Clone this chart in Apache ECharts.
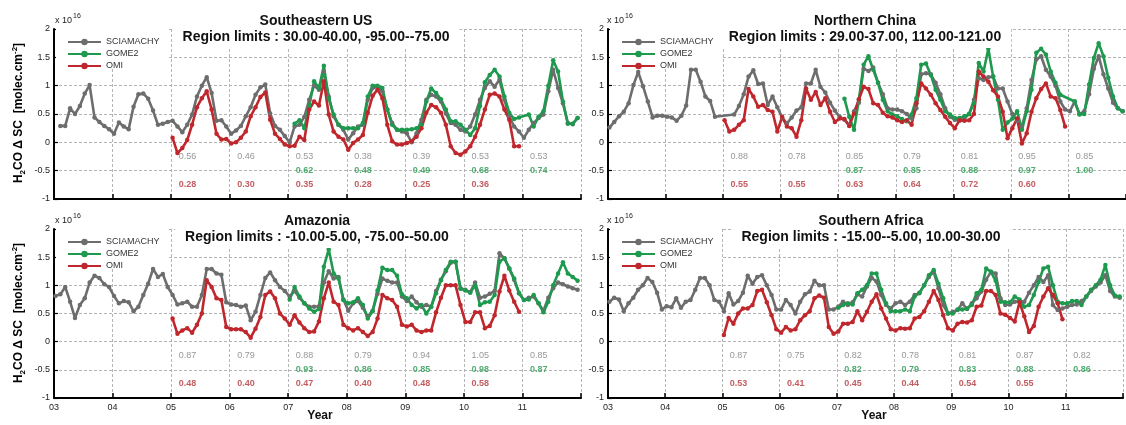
<!DOCTYPE html>
<html><head><meta charset="utf-8">
<script src="https://cdn.jsdelivr.net/npm/echarts/dist/echarts.min.js"></script>
<style>html,body{margin:0;padding:0;background:#fff}#c{width:1126px;height:425px}</style>
</head><body><div id="c"></div><script>
// ---------------- DATA ----------------
const legendNames = ['SCIAMACHY', 'GOME2', 'OMI'];
const xTickLabels = ['03','04','05','06','07','08','09','10','11'];
const sciaStartYear = 2003, gomeStartYear = 2007, omiStartYear = 2005;

// Southeastern US (monthly, SCIAMACHY from Jan 2003, GOME2 from Jan 2007, OMI from Jan 2005)
const seScia = [
 null,0.29,0.29,0.60,0.50,0.64,0.86,1.01,0.44,0.36,0.29,0.23,
 0.15,0.35,0.28,0.23,0.63,0.85,0.86,0.77,0.56,0.31,0.33,0.36,
 0.38,0.28,0.18,0.31,0.49,0.81,1.00,1.15,0.87,0.38,0.39,0.28,
 0.15,0.21,0.29,0.46,0.62,0.84,0.97,1.02,0.51,0.29,0.22,0.11,
 0.00,0.28,0.31,0.45,0.75,1.00,0.93,1.25,0.81,0.46,0.31,0.22,
 0.05,0.16,0.28,0.31,0.75,0.96,0.98,0.90,0.58,0.34,0.22,0.19,
 0.16,0.00,0.16,0.40,0.75,0.84,0.81,0.72,0.51,0.34,0.31,0.22,
 0.19,0.28,0.49,0.75,0.96,1.08,0.98,1.11,0.75,0.46,0.28,0.19,
 0.08,0.22,0.34,0.43,0.49,0.90,1.28,0.96,0.69,0.34,0.32,0.43];
const seGome = [
 null,0.33,0.39,0.25,0.64,1.08,0.96,1.35,0.78,0.49,0.31,0.25,
 0.25,0.25,0.25,0.34,0.81,1.00,1.00,0.96,0.58,0.31,0.22,0.22,
 0.22,0.23,0.25,0.31,0.72,0.95,0.87,0.76,0.58,0.37,0.37,0.31,
 0.22,0.13,0.25,0.64,1.06,1.19,1.28,1.16,0.81,0.52,0.41,0.44,
 null,0.49,0.28,0.45,0.55,1.00,1.45,1.25,0.72,0.33,0.33,0.43];
const seOmi = [
 0.08,-0.19,-0.10,0.04,0.31,0.62,0.78,0.90,0.58,0.15,0.05,0.06,
 -0.02,0.00,0.08,0.19,0.46,0.62,0.80,0.88,0.40,0.15,0.06,-0.04,
 -0.07,-0.06,0.10,0.04,0.58,0.72,0.65,1.08,0.49,0.19,0.10,0.05,
 -0.13,-0.01,0.05,0.13,0.52,0.82,0.93,0.78,0.31,0.02,-0.04,-0.04,
 -0.01,0.02,0.10,0.25,0.52,0.66,0.62,0.52,0.31,-0.07,-0.19,-0.22,
 -0.16,-0.07,0.10,0.31,0.58,0.84,0.86,0.81,0.58,0.40,-0.07,-0.07];

// Northern China
const ncScia = [
 0.26,0.36,0.46,0.54,0.69,1.01,1.24,0.99,0.72,0.44,0.47,0.47,
 0.45,0.44,0.38,0.47,0.65,1.28,1.28,1.07,0.81,0.73,0.45,null,
 null,null,0.49,0.64,0.85,1.16,1.27,1.03,1.04,0.66,0.81,0.62,
 0.44,0.33,0.44,0.56,0.62,1.04,1.04,1.28,0.98,0.88,0.70,0.56,
 0.45,0.40,0.30,0.55,0.70,1.30,1.26,1.32,1.05,0.85,0.60,0.58,
 0.58,0.55,0.50,0.42,0.60,1.20,1.22,1.20,1.05,0.85,0.60,0.45,
 0.40,0.38,0.42,0.50,0.75,1.13,1.10,1.15,1.16,0.95,0.95,0.72,
 0.50,0.38,0.28,0.60,1.10,1.46,1.52,1.28,1.16,1.00,0.72,0.58,
 0.55,0.72,0.50,0.55,0.85,1.30,1.52,1.20,0.95,0.70,0.60,0.55];
const ncGome = [
 null,0.77,0.45,0.22,0.75,1.37,1.52,1.28,1.05,0.75,0.55,0.49,
 0.46,0.41,0.37,0.49,0.78,1.37,1.39,1.19,0.93,0.75,0.55,0.49,
 0.43,0.43,0.46,0.50,0.70,1.40,1.25,1.65,1.16,0.75,0.22,0.35,
 0.42,0.55,0.22,0.55,0.93,1.58,1.65,1.55,1.25,1.05,0.84,null,
 null,0.72,0.49,0.50,1.02,1.49,1.75,1.52,1.14,0.81,0.60,0.55];
const ncOmi = [
 0.39,0.19,0.22,0.31,0.39,0.94,0.81,0.63,0.66,0.57,0.54,0.19,
 0.45,0.28,0.25,0.10,0.39,0.95,0.75,0.89,0.66,0.78,0.54,0.36,
 0.42,0.41,0.29,0.51,0.76,0.98,0.94,0.69,0.66,0.52,0.46,0.44,
 0.39,0.36,0.39,0.31,0.69,1.04,0.95,0.84,0.69,0.57,0.45,0.34,
 0.25,0.39,0.38,0.39,0.50,1.25,1.16,1.07,0.92,0.81,0.54,0.07,
 0.25,0.42,-0.02,0.16,0.54,0.78,0.94,1.04,0.81,0.78,0.57,0.28];

// Amazonia
const amScia = [
 0.81,0.84,0.97,0.71,0.42,0.65,0.77,1.05,1.17,1.13,1.02,0.97,
 0.81,0.68,0.72,0.70,0.54,0.62,0.83,1.03,1.29,1.15,1.20,0.97,
 0.83,0.66,0.68,0.71,0.62,0.62,0.83,1.29,1.29,1.21,1.19,0.70,
 0.66,0.65,0.62,0.64,0.38,0.53,0.83,1.13,1.23,1.09,0.97,0.90,
 0.80,0.90,0.78,0.68,0.62,0.62,0.63,1.05,1.25,1.12,1.15,0.75,
 0.55,0.68,0.72,0.60,0.45,0.55,0.85,1.12,1.08,1.05,1.05,0.80,
 0.72,0.80,0.70,0.62,0.65,0.62,0.90,1.10,1.25,1.40,1.42,0.95,
 0.92,0.88,1.05,0.78,0.80,0.85,0.90,1.57,1.48,1.30,1.10,0.86,
 0.74,0.78,0.80,0.68,0.55,0.78,0.95,1.05,1.02,0.98,0.95,0.92];
const amGome = [
 0.75,0.97,0.80,0.68,0.59,0.53,0.58,1.33,1.64,1.21,1.12,0.74,
 0.68,0.70,0.77,0.65,0.41,0.54,0.91,1.31,1.27,1.27,1.17,0.84,
 0.77,0.65,0.59,0.65,0.50,0.62,0.86,1.09,1.27,1.42,1.42,0.94,
 0.91,0.87,1.00,0.65,0.70,0.71,0.83,1.42,1.48,1.30,1.12,0.86,
 0.74,0.75,0.83,0.68,0.52,0.71,1.00,1.21,1.41,1.21,1.15,1.08];
const amOmi = [
 0.41,0.14,0.20,0.24,0.16,0.30,0.50,1.09,0.97,0.77,0.74,0.26,
 0.22,0.22,0.22,0.17,0.07,0.23,0.44,0.83,0.89,0.77,0.50,0.41,
 0.30,0.47,0.34,0.24,0.17,0.18,0.36,0.77,1.05,0.71,0.65,0.30,
 0.24,0.20,0.24,0.17,0.10,0.17,0.41,0.83,0.77,0.74,0.62,0.30,
 0.27,0.30,0.20,0.17,0.20,0.20,0.52,0.78,1.00,1.00,1.00,0.65,
 0.35,0.35,0.52,0.52,0.24,0.28,0.47,0.89,1.17,0.91,0.71,0.53];

// Southern Africa
const saScia = [
 0.71,0.78,0.75,0.54,0.68,0.78,0.92,1.00,1.13,1.06,0.87,0.57,
 0.63,0.61,0.77,0.60,0.71,0.74,0.92,1.13,1.13,1.00,0.74,0.71,
 0.54,0.86,0.66,0.72,0.87,1.17,1.03,1.15,1.18,1.00,0.83,0.57,
 0.57,0.74,0.65,0.50,0.71,0.84,0.89,1.08,1.00,1.00,0.57,0.57,
 0.62,0.71,0.65,0.70,0.84,0.80,0.98,1.13,1.07,0.83,0.65,0.59,
 0.68,0.71,0.65,0.71,0.83,0.86,1.00,1.15,1.24,0.95,0.65,0.50,
 0.53,0.56,0.68,0.58,0.68,0.77,0.89,1.10,1.24,1.21,0.77,0.65,
 0.66,0.71,0.72,0.71,0.87,1.00,1.15,1.06,1.18,0.65,0.56,0.59,
 0.62,0.65,0.66,0.72,0.80,0.90,0.98,1.05,1.18,0.90,0.80,0.78];
const saGome = [
 0.60,0.65,0.68,0.66,0.86,0.92,1.00,1.21,1.21,0.92,0.68,0.54,
 0.54,0.54,0.57,0.54,0.80,0.87,1.00,1.18,1.27,1.03,0.77,0.50,
 0.50,0.57,0.57,0.59,0.65,0.86,0.92,1.30,1.24,1.08,0.71,0.70,
 0.70,0.80,0.75,0.62,0.65,0.83,1.06,1.30,1.33,1.00,0.71,0.68,
 0.68,0.72,0.72,0.65,0.80,0.92,1.00,1.10,1.36,1.00,0.82,0.80];
const saOmi = [
 0.12,0.42,0.32,0.50,0.59,0.59,0.65,0.90,0.92,0.70,0.47,0.22,
 0.16,0.26,0.20,0.22,0.38,0.47,0.54,0.77,0.82,0.78,0.26,0.14,
 0.18,0.32,0.32,0.35,0.54,0.38,0.53,0.71,0.84,0.59,0.41,0.22,
 0.20,0.24,0.23,0.24,0.41,0.44,0.54,0.71,0.90,0.74,0.47,0.24,
 0.20,0.32,0.35,0.34,0.38,0.62,0.64,0.90,0.90,0.83,0.50,0.48,
 0.42,0.36,0.70,0.45,0.17,0.28,0.62,0.80,0.95,0.83,0.68,0.40];

// yearly correlation numbers
const corrYearsScia = [2005,2006,2007,2008,2009,2010,2011];
const corrYearsGome = [2007,2008,2009,2010,2011];
const corrYearsOmi  = [2005,2006,2007,2008,2009,2010];
const seCorrScia = [0.56,0.46,0.53,0.38,0.39,0.53,0.53];
const seCorrGome = [0.62,0.48,0.49,0.68,0.74];
const seCorrOmi  = [0.28,0.30,0.35,0.28,0.25,0.36];
const ncCorrScia = [0.88,0.78,0.85,0.79,0.81,0.95,0.85];
const ncCorrGome = [0.87,0.85,0.88,0.97,1.00];
const ncCorrOmi  = [0.55,0.55,0.63,0.64,0.72,0.60];
const amCorrScia = [0.87,0.79,0.88,0.79,0.94,1.05,0.85];
const amCorrGome = [0.93,0.86,0.85,0.98,0.87];
const amCorrOmi  = [0.48,0.40,0.47,0.40,0.48,0.58];
const saCorrScia = [0.87,0.75,0.82,0.78,0.81,0.87,0.82];
const saCorrGome = [0.82,0.79,0.83,0.88,0.86];
const saCorrOmi  = [0.53,0.41,0.45,0.44,0.54,0.55];

const regionNames = ['Southeastern US','Northern China','Amazonia','Southern Africa'];
const regionLimits = ['Region limits : 30.00-40.00, -95.00--75.00','Region limits : 29.00-37.00, 112.00-121.00',
  'Region limits : -10.00-5.00, -75.00--50.00','Region limits : -15.00--5.00, 10.00-30.00'];

// ---------------- CHART ----------------
const FONT = 'Liberation Sans, Arial, Helvetica, sans-serif';
const COL = { scia: '#6d6d6d', gome: '#1d9a4e', omi: '#c0272d' };
const TXT = { scia: '#7d7d7d', gome: '#27994f', omi: '#b3353a' };

const panelData = [
  {scia: seScia, gome: seGome, omi: seOmi, cs: seCorrScia, cg: seCorrGome, co: seCorrOmi},
  {scia: ncScia, gome: ncGome, omi: ncOmi, cs: ncCorrScia, cg: ncCorrGome, co: ncCorrOmi},
  {scia: amScia, gome: amGome, omi: amOmi, cs: amCorrScia, cg: amCorrGome, co: amCorrOmi},
  {scia: saScia, gome: saGome, omi: saOmi, cs: saCorrScia, cg: saCorrGome, co: saCorrOmi}
];
const layout = [
  {left: 54,  top: 29,  height: 170, tx: 306, ty: 11,  lx: 64,  ly: 34,  bottom: false},
  {left: 608, top: 29,  height: 170, tx: 855, ty: 11,  lx: 618, ly: 34,  bottom: false},
  {left: 54,  top: 229, height: 169, tx: 307, ty: 211, lx: 64,  ly: 234, bottom: true},
  {left: 608, top: 229, height: 169, tx: 861, ty: 211, lx: 618, ly: 234, bottom: true}
];

function monthly(arr, startYear) {
  const out = [];
  arr.forEach((v, i) => { if (v !== null) out.push([startYear + (i + 0.3) / 12, v]); });
  return out;
}

const grids = [], xAxes = [], yAxes = [], series = [], titles = [], legends = [], graphics = [];
layout.forEach((L, k) => {
  grids.push({left: L.left, top: L.top, width: 527, height: L.height, containLabel: false});
  xAxes.push({
    type: 'value', gridIndex: k, min: 2003, max: 2012, interval: 1,
    axisLine: {show: true, onZero: false, lineStyle: {color: '#000', width: 2}},
    axisTick: {show: true, inside: true, length: 5, lineStyle: {color: '#000', width: 1.5}},
    axisLabel: {show: L.bottom, fontSize: 9, color: '#222', margin: 5, fontFamily: FONT,
      formatter: v => xTickLabels[Math.round(v) - 2003] || ''},
    splitLine: {show: true, lineStyle: {color: '#b4b4b4', type: [3, 2], width: 1}}
  });
  yAxes.push({
    type: 'value', gridIndex: k, min: -1, max: 2, interval: 0.5,
    axisLine: {show: true, onZero: false, lineStyle: {color: '#000', width: 2}},
    axisTick: {show: true, inside: true, length: 4, lineStyle: {color: '#000', width: 1.2}},
    axisLabel: {fontSize: 9, color: '#222', margin: 4, fontFamily: FONT},
    splitLine: {show: true, lineStyle: {color: '#b4b4b4', type: [3, 2], width: 1}}
  });
  const D = panelData[k];
  const lineBase = (name, data, color) => ({
    type: 'line', name, data, xAxisIndex: k, yAxisIndex: k,
    symbol: 'circle', symbolSize: 4.5, showSymbol: true,
    lineStyle: {color, width: 2.6}, itemStyle: {color},
    emphasis: {disabled: true}, silent: true, z: 3
  });
  series.push(lineBase('SCIAMACHY', monthly(D.scia, sciaStartYear), COL.scia));
  series.push(lineBase('GOME2', monthly(D.gome, gomeStartYear), COL.gome));
  series.push(lineBase('OMI', monthly(D.omi, omiStartYear), COL.omi));
  const corrSeries = (years, vals, level, color, bold) => ({
    type: 'scatter', xAxisIndex: k, yAxisIndex: k, symbolSize: 1,
    itemStyle: {color: 'rgba(0,0,0,0)'}, silent: true, emphasis: {disabled: true}, z: 5,
    data: years.map((y, i) => [y + 0.12, level, vals[i]]),
    label: {show: true, position: 'right', distance: 0, fontSize: 9, fontFamily: FONT,
      color, fontWeight: bold ? 'bold' : 'normal',
      formatter: p => Number(p.data[2]).toFixed(2)}
  });
  series.push(corrSeries(corrYearsScia, D.cs, -0.25, TXT.scia, false));
  series.push(corrSeries(corrYearsGome, D.cg, -0.5, TXT.gome, true));
  series.push(corrSeries(corrYearsOmi, D.co, -0.75, TXT.omi, true));

  titles.push({
    text: regionNames[k], subtext: regionLimits[k],
    left: L.tx, top: L.ty, textAlign: 'center', itemGap: 0,
    backgroundColor: '#fff', padding: [2, 10, 3, 10], z: 10,
    textStyle: {fontSize: 14, fontWeight: 'bold', color: '#111', fontFamily: FONT, lineHeight: 16},
    subtextStyle: {fontSize: 14, fontWeight: 'bold', color: '#111', fontFamily: FONT, lineHeight: 16}
  });
  legends.push({
    data: legendNames, orient: 'vertical', left: L.lx, top: L.ly,
    itemWidth: 33, itemHeight: 8, itemGap: 0, padding: [2, 6, 2, 3],
    selectedMode: false, z: 10,
    textStyle: {fontSize: 9, color: '#333', fontFamily: FONT, lineHeight: 12}
  });
  // white box behind the legend: hides the grid lines there, stays under the data lines
  graphics.push({type: 'rect', silent: true, z: 1,
    shape: {x: L.left + 2, y: L.top - 2, width: 112, height: 42},
    style: {fill: '#fff'}});
});

const yNameRich = {
  b: {fontSize: 12, fontWeight: 'bold', fontFamily: FONT, color: '#111', lineHeight: 16},
  s: {fontSize: 8, fontWeight: 'bold', fontFamily: FONT, color: '#111', lineHeight: 8, verticalAlign: 'bottom'},
  p: {fontSize: 8, fontWeight: 'bold', fontFamily: FONT, color: '#111', lineHeight: 8, verticalAlign: 'top'}
};
const yNameText = '{b|H}{s|2}{b|CO \u0394 SC  [molec.cm}{p|-2}{b|]}';
[113, 313].forEach(cy => graphics.push({
  type: 'text', x: 19, y: cy, rotation: Math.PI / 2, silent: true, z: 20,
  style: {text: yNameText, rich: yNameRich, align: 'center', verticalAlign: 'middle'}
}));
[[55, 21], [607, 21], [55, 221], [607, 221]].forEach(([x, y]) => {
  graphics.push({type: 'text', x, y, silent: true, z: 20,
    style: {text: 'x 10', fontSize: 9, fontFamily: FONT, fill: '#222', align: 'left', verticalAlign: 'middle'}});
  graphics.push({type: 'text', x: x + 18, y: y - 5, silent: true, z: 20,
    style: {text: '16', fontSize: 7, fontFamily: FONT, fill: '#222', align: 'left', verticalAlign: 'middle'}});
});
[[320, 416], [874, 416]].forEach(([x, y]) => graphics.push({
  type: 'text', x, y, silent: true, z: 20,
  style: {text: 'Year', fontSize: 12, fontWeight: 'bold', fontFamily: FONT, fill: '#111', align: 'center', verticalAlign: 'middle'}
}));

const chart = echarts.init(document.getElementById('c'), null, {renderer: 'canvas'});
chart.setOption({
  animation: false,
  backgroundColor: '#fff',
  textStyle: {fontFamily: FONT},
  grid: grids, xAxis: xAxes, yAxis: yAxes,
  title: titles, legend: legends,
  series, graphic: graphics
});
</script></body></html>
